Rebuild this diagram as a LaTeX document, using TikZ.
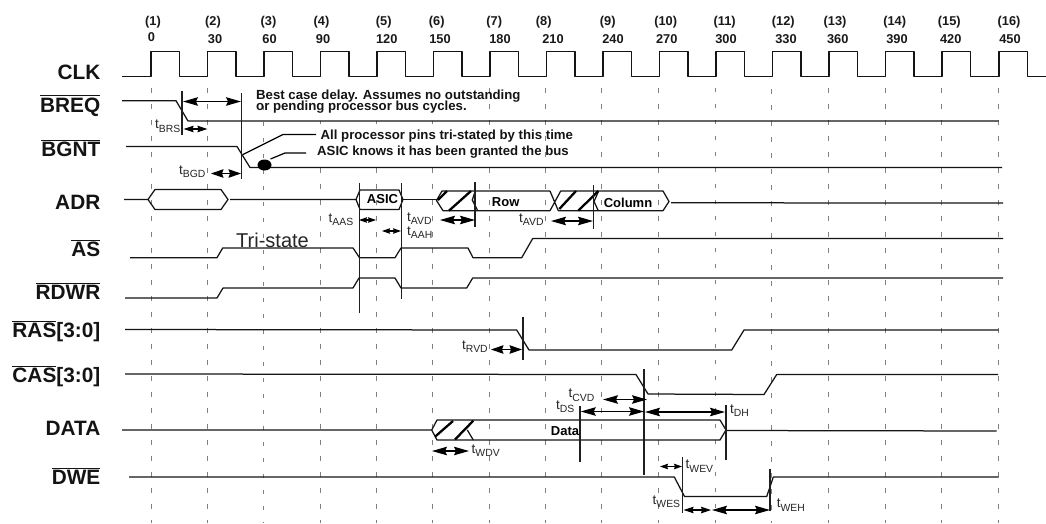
\documentclass[tikz,border=0pt]{standalone}
\usepackage{fontspec}
\setmainfont{Liberation Sans}
\usetikzlibrary{arrows.meta}
\newcommand{\ovl}[1]{\vbox{\hrule height 0.9pt\kern 1.2pt\hbox{#1}}}
\newcommand{\tsb}[1]{t\raisebox{-3.6pt}{\fontsize{10.4}{10}\selectfont #1}}
\tikzset{
  sig/.style={line width=1.25pt,draw=black!92,line join=round},
  thick hatch/.style={line width=2.3pt,draw=black},
  vmark/.style={line width=1.25pt,draw=black!88},
  tick/.style={line width=1pt,draw=black!50,dash pattern=on 4.5pt off 11.5pt},
  name lab/.style={anchor=base east,inner sep=0pt,font=\fontsize{20.8}{22}\selectfont\bfseries,text=black!92},
  top lab/.style={anchor=base,inner sep=0pt,font=\fontsize{12.8}{14}\selectfont\bfseries,text=black!90},
  note/.style={anchor=base west,inner sep=0pt,font=\fontsize{13.2}{13}\selectfont\bfseries,text=black!92},
  tlab/.style={anchor=base west,inner sep=0pt,font=\fontsize{13.5}{14}\selectfont,text=black!85},
  big dim/.style={line width=1.1pt,draw=black,{Stealth[length=15pt,width=8.5pt,inset=2pt]}-{Stealth[length=15pt,width=8.5pt,inset=2pt]}},
  mid dim/.style={line width=1.1pt,draw=black,{Stealth[length=12.5pt,width=8.5pt,inset=1.5pt]}-{Stealth[length=12.5pt,width=8.5pt,inset=1.5pt]}},
  low dim/.style={line width=1.1pt,draw=black,{Stealth[length=10pt,width=6.5pt,inset=1pt]}-{Stealth[length=10pt,width=6.5pt,inset=1pt]}},
  small dim/.style={line width=1.1pt,draw=black,{Stealth[length=8pt,width=5.5pt,inset=1pt]}-{Stealth[length=8pt,width=5.5pt,inset=1pt]}},
}
\begin{document}
\begin{tikzpicture}[x=1pt,y=-1pt]
\fill[white] (0,0) rectangle (1046,523);
\useasboundingbox (0,0) rectangle (1046,523);

% grid ticks
\foreach \x/\s in {151/88,207/88,263/89.5,489/88,545.5/88,601.5/88,658.5/88,715/87.5,771.5/89,828/88,885/88,941/88,998/88}
  \draw[tick] (\x,\s) -- (\x,523);
\foreach \x in {320,376,432.5}{
  \draw[line width=1pt,draw=black!50] (\x,120.5) -- (\x,124);
  \draw[tick] (\x,168) -- (\x,523);
}

% clock
\draw[sig] (122,76.5)
  \foreach \r in {151,207.5,264,320.5,377,433.5,490,546.5,603,659.5,716,772.5,829,885.5,942,999}
   { -- (\r,76.5) -- (\r,51.5) -- ({\r+28.5},51.5) -- ({\r+28.5},76.5) }
  -- (1045.5,76.5);

% top labels
\foreach \t/\x/\n in {(1)/153/a,(2)/213/b,(3)/268.5/c,(4)/321.5/d,(5)/383.7/e,(6)/436.7/f,(7)/494.3/g,(8)/543.7/h,(9)/607.7/i,(10)/665.7/j,(11)/724.7/k,(12)/783.3/l,(13)/835/m,(14)/894.7/n,(15)/949.3/o,(16)/1009/p}
  \node[top lab] (cyc\n) at (\x,25.3) {\t};
\foreach \t/\x/\y/\n in {0/151.5/41.7/a,30/215/43.5/b,60/269.5/43.5/c,90/323/43.5/d,120/386.7/43.5/e,150/440/43.5/f,180/500/43.5/g,210/553/43.5/h,240/613/43.5/i,270/666.7/43.5/j,300/726/43.5/k,330/786/43.5/l,360/837.7/43.5/m,390/897/43.5/n,420/950.7/43.5/o,450/1010/43.5/p}
  \node[top lab] (ns\n) at (\x,\y) {\t};

% signal names
\node[name lab] (nCLK) at (100.5,79.5) {CLK};
\node[name lab] (nBREQ) at (100.5,112) {\ovl{BREQ}};
\node[name lab] (nBGNT) at (100.5,156.7) {\ovl{BGNT}};
\node[name lab] (nADR) at (100.5,209) {ADR};
\node[name lab] (nAS) at (100.5,256.7) {\ovl{AS}};
\node[name lab] (nRDWR) at (100.5,299) {\ovl{RDWR}};
\node[name lab] (nRAS) at (100.5,337.7) {\ovl{RAS}[3:0]};
\node[name lab] (nCAS) at (100.5,382.3) {\ovl{CAS}[3:0]};
\node[name lab] (nDATA) at (100.5,435) {DATA};
\node[name lab] (nDWE) at (100.5,484) {\ovl{DWE}};

% BREQ
\draw[sig] (122,100.7) -- (176,100.7) -- (188,121) -- (998.5,121);
\draw[vmark] (182,91) -- (182,135);
\draw[vmark] (241.5,93) -- (241.5,179);
\draw[big dim] (183,101.5) -- (241,101.5);
\draw[low dim] (183.5,129) -- (207.5,129);
\node[tlab] (tbrs) at (155,128.5) {\tsb{BRS}};
\node[note] (n1) at (256,110) {\vbox{\baselineskip=11pt\lineskiplimit=-100pt\hbox{Best case delay. Assumes no outstanding}\hbox{or pending processor bus cycles.}}};

% BGNT
\draw[sig] (126,146.5) -- (237,146.5) -- (250,167.5) -- (1002,167.5);
\draw[mid dim] (211,173.5) -- (241,173.5);
\node[tlab] (tbgd) at (179,174) {\tsb{BGD}};
\fill[black] (264.5,165) ellipse (7 and 5.5);
\node[note] (n3) at (320.5,139) {All processor pins tri-stated by this time};
\node[note] (n4) at (317,155.5) {ASIC knows it has been granted the bus};
\draw[line width=1.2pt] (243,154.5) -- (283,134.5) -- (316,134.5);
\draw[line width=1.2pt] (270.5,159) -- (285,153) -- (306,153);

% ADR
\draw[sig] (124,199.5) -- (148,199.5) -- (155,189.5) -- (221,189.5) -- (228,199.5) -- (221,209.5) -- (155,209.5) -- (148,199.5);
\draw[sig] (230,199.5) -- (356,199.5) -- (360,190) -- (399,190) -- (403,199.5) -- (399,209.5) -- (360,209.5) -- (356,199.5);
\draw[sig] (403,199.5) -- (436.5,199.5);
\draw[vmark] (359.7,183) -- (359.7,313);
\draw[vmark] (401.3,183) -- (401.3,298.5);
\node[anchor=center,inner sep=0pt,font=\fontsize{13}{14}\selectfont\bfseries] (asic) at (382.5,199) {ASIC};
% first hatched part + Row
\draw[sig] (550,191) -- (442,191) -- (436.5,200.5) -- (443,210.7) -- (550,210.7);
\draw[sig] (475,191.7) -- (472.3,200) -- (477.7,210.7);
\draw[thick hatch] (438,200) -- (447,191);
\draw[thick hatch] (449,210.7) -- (471,191);
\draw[vmark] (475,182) -- (475,226.5);
\node[inner sep=0pt,font=\fontsize{13}{14}\selectfont\bfseries] (row) at (505.7,202.5) {Row};
% crossing + second hatched part + Column
\draw[sig] (550,191) -- (558.3,210.7) -- (663,210.7) -- (669,201.5) -- (663,191) -- (560.7,191) -- (550,210.7);
\draw[sig] (598.3,191.7) -- (594,201.5) -- (598.3,210.7);
\draw[thick hatch] (559.3,209) -- (576,191);
\draw[thick hatch] (578.3,210.7) -- (598.3,191);
\draw[vmark] (593.5,185) -- (593.5,228.5);
\node[inner sep=0pt,font=\fontsize{13}{14}\selectfont\bfseries] (col) at (628,202.5) {Column};
\draw[sig] (671,202.8) -- (1003,203);
\draw[small dim] (359,220) -- (376,220);
\draw[small dim] (382,231) -- (401,231);
\draw[big dim] (440,220) -- (475,220);
\draw[big dim] (551,221) -- (593,221);
\node[tlab] (taas) at (328.5,222) {\tsb{AAS}};
\node[tlab] (tavda) at (407,221) {\tsb{AVD}};
\node[tlab] (taah) at (407,235) {\tsb{AAH}};
\node[tlab] (tavdb) at (519,222) {\tsb{AVD}};

% AS
\draw[sig] (130,257.7) -- (217,257.7) -- (222.7,248) -- (353,248) -- (359.5,257.7) -- (395,257.7) -- (401,248) -- (468,248) -- (473,257.7) -- (521.7,257.7) -- (532.7,238.5) -- (1003,238.5);
\node[anchor=base west,inner sep=0pt,font=\fontsize{20}{22}\selectfont,text=black!85] (tri) at (236,247) {Tri-state};

% RDWR
\draw[sig] (125,298) -- (217,298) -- (223,288) -- (353,288) -- (359,278) -- (395,278) -- (401,288) -- (466.7,288) -- (472.7,278) -- (1003,278);

% RAS
\draw[sig] (125,329.5) -- (516.7,330) -- (529,350) -- (731.7,350) -- (744,330) -- (998.7,330);
\draw[vmark] (523,316.5) -- (523,360);
\draw[mid dim] (491,349.5) -- (522,349.5);
\node[tlab] (trvd) at (462,349) {\tsb{RVD}};

% CAS
\draw[sig] (125,374) -- (636,374.5) -- (648,394) -- (764,394.5) -- (776.7,374.5) -- (998,374.5);
\draw[vmark] (644,369) -- (644,474.5);
\draw[big dim] (603,399.5) -- (647,399.5);
\draw[big dim] (580.7,411.5) -- (644,411.5);
\draw[big dim] (645,412) -- (725,412);
\node[tlab] (tcvd) at (568.5,397.7) {\tsb{CVD}};
\node[tlab] (tds) at (556,409) {\tsb{DS}};
\node[tlab] (tdh) at (730,413) {\tsb{DH}};

% DATA
\draw[sig] (122,430) -- (431.7,430) -- (437,420) -- (720,420) -- (726,430) -- (720,440) -- (437,440) -- (431.7,430);
\draw[sig] (726,430.5) -- (996.7,431);
\draw[sig] (467.3,430) -- (473.3,440);
\draw[thick hatch] (435,436.7) -- (453,421);
\draw[thick hatch] (455,439.5) -- (473.3,420.7);
\draw[vmark] (580,406) -- (580,461.5);
\draw[vmark] (726,404.5) -- (726,460);
\node[inner sep=0pt,font=\fontsize{13}{14}\selectfont\bfseries] (data) at (565,431) {Data};
\draw[big dim] (432,451) -- (469,451);
\node[tlab] (twdv) at (471.5,453) {\tsb{WDV}};

% DWE
\draw[sig] (129,477) -- (674.3,477) -- (684.5,496.5) -- (766.7,496.5) -- (773.3,477) -- (998.7,477);
\draw[vmark] (682.7,456.5) -- (682.7,513);
\draw[vmark] (770,468.5) -- (770,511);
\draw[small dim] (660,466.5) -- (682,466.5);
\draw[low dim] (683.5,510) -- (711,510);
\draw[big dim] (712,510) -- (770,510);
\node[tlab] (twev) at (685.5,468.7) {\tsb{WEV}};
\node[tlab] (twes) at (652.5,504) {\tsb{WES}};
\node[tlab] (tweh) at (776.7,507.7) {\tsb{WEH}};
\end{tikzpicture}
\end{document}
